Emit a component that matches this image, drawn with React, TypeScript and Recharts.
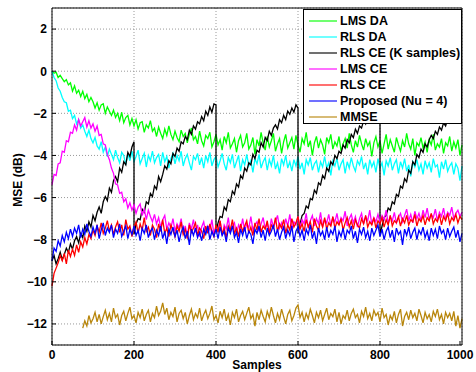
import { LineChart, Line, XAxis, YAxis, CartesianGrid } from 'recharts'

const STEP = 5
const X_TICKS = [0, 200, 400, 600, 800, 1000]
const Y_TICKS = [-12, -10, -8, -6, -4, -2, 0, 2]
const FONT = '"Liberation Sans", Arial, Helvetica, sans-serif'

// LMS DA, samples 0..1000 every 5
const lmsDa = [
  0, -0.1, -0.05, -0.3, -0.2, -0.35, -0.5, -0.4, -0.65, -0.55,
  -0.95, -0.7, -1.05, -0.9, -1.2, -0.95, -1.3, -1.1, -1.45, -1.25,
  -1.45, -1.75, -1.5, -1.85, -1.6, -1.55, -2.0, -1.7, -1.9, -2.1,
  -1.85, -2.2, -2.0, -2.35, -1.95, -2.45, -2.2, -2.1, -2.55, -2.25,
  -2.6, -2.3, -2.75, -2.45, -2.4, -2.9, -2.55, -2.7, -2.35, -2.85,
  -2.7, -3.1, -2.65, -2.95, -3.2, -2.75, -3.05, -2.6, -3.0, -3.25,
  -2.85, -3.15, -3.35, -2.8, -3.1, -2.95, -3.4, -3.0, -2.7, -3.25,
  -3.1, -3.45, -2.85, -3.3, -3.55, -3.05, -3.2, -2.9, -3.6, -3.35,
  -3.0, -3.5, -3.25, -3.75, -3.1, -3.4, -2.9, -3.65, -3.45, -3.2,
  -3.85, -3.3, -3.05, -3.6, -3.4, -2.95, -3.7, -3.5, -3.15, -3.95,
  -3.25, -3.55, -2.9, -3.4, -3.75, -3.1, -3.6, -3.3, -2.95, -3.8,
  -3.45, -3.2, -3.9, -3.35, -3.0, -3.65, -3.4, -3.15, -3.7, -3.05,
  -3.5, -3.85, -3.2, -3.45, -2.9, -3.6, -3.3, -4.0, -3.4, -3.1,
  -3.65, -3.25, -3.5, -3.95, -3.15, -3.4, -3.0, -3.7, -3.35, -3.55,
  -3.1, -3.8, -3.45, -3.2, -3.65, -2.95, -3.5, -3.85, -3.3, -3.6,
  -3.05, -3.45, -3.75, -3.2, -3.55, -3.35, -4.05, -3.4, -3.1, -3.6,
  -3.3, -3.9, -3.45, -3.0, -3.7, -3.25, -3.55, -3.85, -3.15, -3.5,
  -3.8, -3.3, -3.6, -2.95, -3.45, -3.7, -3.2, -4.0, -3.4, -3.55,
  -3.15, -3.65, -3.35, -3.85, -3.25, -3.5, -3.0, -3.75, -3.45, -3.6,
  -3.2, -3.9, -3.4, -3.55, -3.1, -3.8, -3.35, -3.65, -3.25, -4.0,
  -3.5,
]

const rlsDa = [
  0, -0.3, -0.45, -0.8, -0.95, -1.25, -1.45, -1.5, -1.9, -1.85,
  -2.25, -2.1, -2.5, -2.3, -2.7, -2.55, -2.85, -3.1, -2.8, -3.2,
  -3.4, -3.15, -3.55, -3.7, -3.35, -3.85, -3.6, -4.05, -3.7, -3.95,
  -4.2, -3.75, -4.1, -4.35, -3.85, -4.0, -4.45, -3.9, -4.25, -3.8,
  -4.3, -4.05, -3.75, -4.4, -4.15, -3.9, -4.55, -4.0, -4.25, -3.8,
  -4.35, -4.1, -3.95, -4.5, -3.85, -4.3, -4.05, -4.6, -4.15, -3.9,
  -4.4, -4.0, -4.25, -3.8, -4.5, -4.15, -3.95, -4.35, -4.7, -4.05,
  -4.2, -3.9, -4.45, -4.1, -4.6, -4.0, -4.3, -3.85, -4.5, -4.2,
  -4.05, -4.55, -4.25, -3.9, -4.4, -4.7, -4.1, -4.35, -3.95, -4.6,
  -4.3, -4.0, -4.75, -4.2, -4.45, -3.95, -4.5, -4.25, -4.8, -4.15,
  -4.4, -3.95, -4.6, -4.3, -4.1, -4.7, -4.2, -4.5, -4.0, -4.65,
  -4.35, -4.85, -4.15, -4.45, -4.0, -4.6, -4.3, -4.75, -4.2, -4.5,
  -4.05, -4.65, -4.35, -4.9, -4.2, -4.45, -4.1, -4.7, -4.4, -4.25,
  -4.8, -4.3, -4.55, -4.05, -4.6, -4.35, -4.95, -4.25, -4.5, -4.15,
  -4.7, -4.4, -4.2, -4.85, -4.3, -4.6, -4.1, -4.5, -4.75, -4.25,
  -4.45, -4.05, -4.65, -4.35, -4.9, -4.2, -4.55, -4.3, -4.8, -4.15,
  -4.6, -4.35, -4.95, -4.25, -4.5, -4.1, -4.7, -4.4, -4.2, -4.85,
  -4.3, -4.6, -4.15, -4.75, -4.45, -5.0, -4.3, -4.55, -4.2, -4.7,
  -4.4, -4.9, -4.25, -4.6, -4.35, -4.8, -4.15, -4.55, -4.45, -5.05,
  -4.3, -4.65, -4.2, -4.75, -4.5, -4.35, -4.9, -4.4, -4.6, -5.2,
  -4.5,
]

// RLS CE (K samples): restarts every 200 samples
const K_STARTS = [0, 200, 400, 600, 800]
const kSeg1 = [
  -9.0, -8.75, -9.15, -8.9, -8.6, -8.95, -8.7, -8.4, -8.6, -8.2,
  -8.45, -8.05, -7.85, -8.15, -7.7, -7.9, -7.35, -7.6, -7.15, -7.4,
  -6.85, -7.1, -6.7, -6.45, -6.75, -6.2, -5.95, -6.15, -5.55, -5.75,
  -5.2, -5.0, -5.25, -4.6, -4.8, -4.3, -4.45, -3.85, -4.05, -3.6,
  -3.35,
]
const kSeg2 = [
  -7.75, -7.25, -7.0, -7.05, -6.55, -6.7, -6.2, -6.3, -5.8, -5.95,
  -5.45, -5.6, -5.0, -5.25, -4.9, -4.5, -4.65, -4.25, -4.4, -3.9,
  -4.05, -3.65, -3.8, -3.35, -3.45, -3.1, -3.25, -2.8, -3.0, -2.6,
  -2.75, -2.4, -2.5, -2.15, -2.35, -1.9, -2.1, -1.7, -1.95, -1.55,
  -1.6,
]
const kSeg3 = [
  -7.6, -7.2, -6.9, -6.95, -6.45, -6.6, -6.1, -6.2, -5.7, -5.85,
  -5.35, -5.5, -4.95, -5.1, -4.6, -4.75, -4.35, -4.45, -3.95, -4.15,
  -3.75, -3.85, -3.4, -3.6, -3.15, -3.3, -2.85, -3.05, -2.7, -2.55,
  -2.75, -2.3, -2.45, -2.1, -2.3, -1.9, -2.05, -1.75, -1.95, -1.6,
  -1.75,
]
const kSeg4 = [
  -7.7, -7.25, -6.85, -6.75, -6.4, -6.5, -6.05, -6.1, -5.65, -5.8,
  -5.3, -5.4, -4.95, -5.1, -4.6, -4.75, -4.3, -4.45, -4.0, -4.15,
  -3.8, -3.9, -3.5, -3.65, -3.25, -3.4, -3.0, -3.15, -2.75, -2.95,
  -2.6, -2.7, -2.35, -2.5, -2.15, -2.3, -1.95, -2.1, -1.8, -1.95,
  -1.8,
]
const kSeg5 = [
  -7.8, -7.35, -6.95, -6.85, -6.5, -6.6, -6.2, -6.3, -5.85, -5.95,
  -5.45, -5.55, -5.1, -5.25, -4.7, -4.85, -4.3, -4.45, -3.95, -4.1,
  -3.7, -3.85, -3.45, -3.6, -3.25, -3.05, -3.2, -2.85, -3.0, -2.65,
  -2.8, -2.45, -2.6, -2.3, -2.45, -2.1, -2.25, -1.95, -2.1, -1.8,
  -1.9,
]

const lmsCe = [
  -5.4, -4.9, -4.95, -4.4, -4.35, -3.8, -3.85, -3.3, -3.35, -2.9,
  -2.95, -2.55, -2.8, -2.3, -2.6, -2.4, -2.2, -2.65, -2.35, -2.7,
  -2.5, -2.85, -2.6, -3.05, -3.0, -3.45, -3.5, -3.95, -4.2, -4.6,
  -4.85, -5.35, -5.4, -5.8, -5.75, -6.2, -6.05, -6.5, -6.25, -6.6,
  -6.35, -6.75, -6.45, -6.3, -6.85, -6.55, -7.05, -6.6, -6.9, -7.15,
  -6.8, -7.25, -6.95, -7.4, -7.05, -6.85, -7.5, -7.2, -7.45, -7.0,
  -7.6, -7.25, -7.45, -7.0, -7.7, -7.35, -7.8, -7.2, -7.5, -7.05,
  -7.65, -7.3, -7.85, -7.4, -7.15, -7.7, -7.35, -7.55, -7.05, -7.75,
  -7.4, -7.6, -7.1, -7.8, -7.3, -7.5, -6.95, -7.65, -7.35, -7.2,
  -7.75, -7.3, -7.55, -7.0, -7.6, -7.25, -7.45, -6.9, -7.55, -7.3,
  -7.15, -7.6, -7.25, -6.95, -7.5, -7.2, -7.65, -7.0, -7.4, -7.15,
  -6.85, -7.45, -7.2, -7.55, -7.0, -7.35, -6.8, -7.5, -7.15, -7.3,
  -6.9, -7.4, -7.05, -7.25, -6.75, -7.45, -7.1, -6.85, -7.35, -7.0,
  -7.25, -6.7, -7.4, -7.05, -7.2, -6.8, -7.35, -6.95, -7.15, -6.75,
  -7.3, -6.95, -7.1, -6.65, -7.35, -7.0, -6.8, -7.2, -6.9, -7.4,
  -7.0, -6.75, -7.25, -6.9, -7.1, -6.6, -7.3, -6.95, -7.15, -6.8,
  -7.2, -6.85, -7.05, -6.6, -7.25, -6.9, -7.1, -6.7, -7.2, -6.95,
  -6.75, -7.15, -6.85, -6.55, -7.1, -6.8, -7.2, -6.65, -7.0, -6.75,
  -7.1, -6.6, -6.95, -6.5, -7.05, -6.8, -6.95, -6.55, -7.1, -6.7,
  -6.9, -6.5, -7.05, -6.7, -6.85, -6.45, -7.0, -6.75, -6.6, -6.9,
  -6.7,
]

const rlsCe = [
  -10.2, -9.6, -9.35, -9.1, -8.75, -9.0, -8.65, -9.15, -8.5, -8.8,
  -8.45, -8.75, -8.25, -8.6, -8.1, -8.35, -7.9, -8.2, -7.75, -7.95,
  -7.55, -7.8, -7.35, -7.65, -7.2, -7.7, -7.45, -7.1, -7.6, -7.3,
  -7.75, -7.4, -7.15, -7.65, -7.3, -7.8, -7.05, -7.5, -7.35, -7.85,
  -7.4, -7.15, -7.7, -7.25, -7.55, -6.95, -7.6, -7.4, -7.8, -7.3,
  -7.5, -7.9, -7.25, -7.6, -7.05, -7.7, -7.45, -7.85, -7.3, -7.55,
  -7.85, -7.35, -7.6, -7.15, -7.75, -7.5, -7.95, -7.3, -7.65, -7.45,
  -7.2, -7.8, -7.45, -7.6, -7.95, -7.35, -7.7, -7.25, -7.6, -7.85,
  -7.3, -7.65, -7.1, -7.75, -7.45, -7.9, -7.35, -7.55, -7.05, -7.7,
  -7.45, -7.85, -7.25, -7.6, -7.35, -7.1, -7.7, -7.4, -7.8, -7.2,
  -7.55, -7.0, -7.65, -7.35, -7.5, -7.1, -7.75, -7.3, -7.45, -6.95,
  -7.6, -7.25, -7.45, -7.05, -7.7, -7.3, -7.55, -7.0, -7.4, -7.2,
  -6.9, -7.5, -7.25, -7.6, -7.05, -7.4, -7.15, -7.65, -7.0, -7.35,
  -7.55, -7.1, -7.4, -6.95, -7.5, -7.2, -7.35, -6.9, -7.45, -7.15,
  -7.3, -7.0, -7.55, -7.2, -6.95, -7.4, -7.1, -7.5, -7.05, -7.3,
  -7.45, -7.0, -7.25, -6.85, -7.4, -7.15, -7.3, -6.95, -7.45, -7.1,
  -7.25, -6.95, -7.4, -7.05, -7.3, -6.85, -7.35, -7.1, -7.2, -6.9,
  -7.35, -7.0, -7.2, -6.85, -7.3, -7.05, -7.15, -6.8, -7.35, -7.0,
  -7.15, -6.85, -7.3, -6.95, -7.1, -6.75, -7.25, -7.0, -7.15, -6.8,
  -7.3, -6.9, -7.1, -6.75, -7.25, -6.95, -7.1, -6.8, -7.2, -6.9,
  -7.05,
]

const proposed = [
  -9.0, -8.4, -8.55, -8.05, -8.3, -7.8, -8.1, -7.65, -7.95, -7.5,
  -7.85, -7.45, -7.7, -7.3, -7.9, -7.5, -7.75, -7.25, -7.6, -7.85,
  -7.4, -7.7, -7.3, -7.95, -7.55, -7.2, -7.8, -7.45, -7.65, -7.3,
  -7.9, -7.5, -7.7, -7.25, -7.85, -7.6, -7.35, -7.95, -7.5, -7.75,
  -7.35, -7.8, -7.55, -8.05, -7.45, -7.7, -7.3, -7.9, -7.6, -7.45,
  -8.0, -7.55, -7.8, -7.35, -7.95, -7.6, -8.2, -7.5, -7.75, -7.4,
  -7.85, -7.55, -8.1, -7.65, -7.4, -7.95, -7.6, -8.25, -7.5, -7.8,
  -7.45, -7.9, -7.65, -8.05, -7.5, -7.75, -7.35, -8.0, -7.6, -7.85,
  -7.5, -7.95, -7.4, -7.8, -7.6, -8.1, -7.45, -7.7, -7.35, -7.9,
  -7.65, -8.15, -7.5, -7.8, -7.4, -7.95, -7.6, -7.75, -8.2, -7.5,
  -7.7, -7.35, -7.9, -7.55, -8.05, -7.45, -7.8, -7.6, -7.3, -7.85,
  -7.5, -8.0, -7.65, -7.4, -7.95, -7.55, -7.8, -7.35, -8.1, -7.6,
  -7.4, -7.85, -7.55, -8.05, -7.5, -7.75, -7.3, -7.95, -7.6, -8.2,
  -7.45, -7.8, -7.6, -8.0, -7.4, -7.9, -7.55, -7.75, -7.35, -8.1,
  -7.6, -7.85, -7.45, -8.0, -7.55, -7.7, -7.35, -7.95, -7.6, -8.15,
  -7.5, -7.75, -7.4, -7.9, -7.6, -8.05, -7.45, -7.8, -7.55, -7.3,
  -7.85, -7.5, -8.0, -7.6, -7.4, -7.9, -7.55, -8.1, -7.45, -7.75,
  -7.6, -8.25, -7.5, -7.8, -7.4, -7.95, -7.65, -7.45, -8.0, -7.55,
  -7.75, -7.4, -7.9, -7.6, -8.05, -7.45, -7.8, -7.5, -7.95, -7.35,
  -7.7, -7.55, -8.0, -7.45, -7.85, -7.6, -7.4, -7.9, -7.55, -8.1,
  -7.7,
]

// MMSE, samples 75..1000 every 5
const MMSE_START = 75
const mmse = [
  -12.2, -11.85, -12.1, -11.6, -11.95, -11.75, -11.45, -11.9, -11.55, -12.0,
  -11.65, -11.35, -11.8, -11.5, -11.9, -11.25, -11.7, -11.55, -12.05, -11.6,
  -11.4, -11.85, -11.5, -11.2, -11.75, -11.6, -11.95, -11.45, -11.7, -11.3,
  -11.85, -11.55, -11.35, -11.9, -11.5, -11.7, -11.15, -11.6, -11.4, -11.0,
  -11.55, -11.25, -11.8, -11.45, -11.65, -11.2, -11.9, -11.5, -11.35, -11.75,
  -11.45, -12.0, -11.6, -11.3, -11.8, -11.5, -11.7, -11.25, -11.85, -11.55,
  -11.35, -11.75, -11.5, -11.15, -11.8, -11.6, -11.95, -11.4, -11.7, -11.3,
  -11.85, -11.55, -12.05, -11.45, -11.7, -11.3, -11.9, -11.6, -11.4, -11.8,
  -11.5, -11.2, -11.75, -11.55, -12.1, -11.45, -11.8, -11.35, -11.65, -11.9,
  -11.4, -11.7, -11.2, -11.6, -11.95, -11.5, -11.8, -11.3, -11.65, -12.0,
  -11.55, -11.35, -11.85, -11.6, -11.25, -11.1, -11.7, -11.45, -11.9, -11.5,
  -11.75, -11.3, -11.6, -11.95, -11.45, -11.7, -11.35, -11.85, -11.55, -11.25,
  -11.8, -11.5, -11.65, -11.3, -11.9, -11.45, -12.0, -11.6, -11.75, -11.35,
  -11.85, -11.5, -11.3, -11.7, -11.55, -11.95, -11.4, -11.65, -11.2, -11.75,
  -11.5, -11.85, -11.35, -11.6, -11.45, -11.9, -11.25, -11.7, -11.55, -12.05,
  -11.6, -11.8, -11.4, -11.95, -11.55, -11.3, -12.1, -11.65, -11.45, -11.8,
  -11.35, -11.7, -11.5, -11.85, -11.3, -11.6, -11.95, -11.45, -11.75, -11.55,
  -11.9, -11.4, -11.65, -11.3, -11.8, -11.55, -12.0, -11.45, -11.7, -11.5,
  -11.85, -11.4, -12.1, -11.6, -12.2, -11.75,
]

const pts = (vals: number[], start = 0) => vals.map((y, i) => ({ x: start + i * STEP, y }))

const SERIES = [
  { name: 'LMS DA', color: '#00ff00', data: pts(lmsDa) },
  { name: 'RLS DA', color: '#00ffff', data: pts(rlsDa) },
  { name: 'RLS CE (K samples)', color: '#000000', data: [kSeg1, kSeg2, kSeg3, kSeg4, kSeg5].flatMap((s, k) => pts(s, K_STARTS[k])) },
  { name: 'LMS CE', color: '#ff00ff', data: pts(lmsCe) },
  { name: 'RLS CE', color: '#ff0000', data: pts(rlsCe) },
  { name: 'Proposed (Nu = 4)', color: '#0000ff', data: pts(proposed) },
  { name: 'MMSE', color: '#b8860b', data: pts(mmse, MMSE_START) },
]

const fmt = (v: number) => String(v).replace('-', '\u2212')
const GAP = 5
const TXT = { fontFamily: FONT, fontWeight: 700, fontSize: 12, fill: '#000' }

const LeftTick = ({ x, y, payload }: any) => (
  <g>
    <line x1={x + GAP} x2={x + GAP + 4} y1={y} y2={y} stroke="#000" />
    <text x={x} y={y} dy="0.36em" textAnchor="end" style={TXT}>{fmt(payload.value)}</text>
  </g>
)
const BottomTick = ({ x, y, payload }: any) => (
  <g>
    <line x1={x} x2={x} y1={y - GAP} y2={y - GAP - 4} stroke="#000" />
    <text x={x} y={y} dy="0.72em" textAnchor="middle" style={TXT}>{fmt(payload.value)}</text>
  </g>
)
const TopTick = ({ x, y }: any) => <line x1={x} x2={x} y1={y} y2={y + 4} stroke="#000" />
const RightTick = ({ x, y }: any) => <line x1={x} x2={x - 4} y1={y} y2={y} stroke="#000" />

export default function App() {
  return (
    <div style={{ position: 'absolute', left: 0, top: 0, width: 476, height: 372, background: '#fff', overflow: 'hidden' }}>
      <LineChart width={476} height={372} margin={{ top: 0, right: 0, bottom: 0, left: 0 }}>
        <CartesianGrid stroke="#999" strokeDasharray="1 2" />
        <XAxis xAxisId={0} dataKey="x" type="number" domain={[0, 1000]} ticks={X_TICKS} height={27}
          tickSize={0} tickMargin={GAP} tick={<BottomTick />} axisLine={{ stroke: '#000' }} tickLine={false} />
        <XAxis xAxisId="top" orientation="top" type="number" domain={[0, 1000]} ticks={X_TICKS} height={8}
          tickSize={0} tickMargin={0} tick={<TopTick />} axisLine={{ stroke: '#000' }} tickLine={false} />
        <YAxis yAxisId={0} type="number" domain={[-13, 3]} ticks={Y_TICKS} width={52}
          tickSize={0} tickMargin={GAP} tick={<LeftTick />} axisLine={{ stroke: '#000' }} tickLine={false} />
        <YAxis yAxisId="right" orientation="right" type="number" domain={[-13, 3]} ticks={Y_TICKS} width={14}
          tickSize={0} tickMargin={0} tick={<RightTick />} axisLine={{ stroke: '#000' }} tickLine={false} />
        {SERIES.map(s => (
          <Line key={s.name} data={s.data} dataKey="y" type="linear" stroke={s.color} strokeWidth={1.3}
            dot={false} activeDot={false} isAnimationActive={false} />
        ))}
      </LineChart>

      <svg width={476} height={372} style={{ position: 'absolute', left: 0, top: 0, pointerEvents: 'none' }}>
        <text x={257} y={369} textAnchor="middle" style={TXT}>Samples</text>
        <text x={22} y={180} textAnchor="middle" transform="rotate(-90 22 180)" style={TXT}>MSE (dB)</text>
      </svg>

      <div style={{
        position: 'absolute', left: 303, top: 9, width: 159, height: 115, boxSizing: 'border-box',
        background: '#fff', border: '1px solid #000', padding: '3px 0 0 0',
      }}>
        {SERIES.map(s => (
          <div key={s.name} style={{ display: 'flex', alignItems: 'center', height: 16 }}>
            <svg width={36} height={16} style={{ flex: 'none' }}>
              <line x1={5} x2={33} y1={8} y2={8} stroke={s.color} strokeWidth={1.5} strokeOpacity={0.75} />
            </svg>
            <span style={{ fontFamily: FONT, fontWeight: 700, fontSize: 12.5, color: '#000', whiteSpace: 'nowrap' }}>{s.name}</span>
          </div>
        ))}
      </div>
    </div>
  )
}
